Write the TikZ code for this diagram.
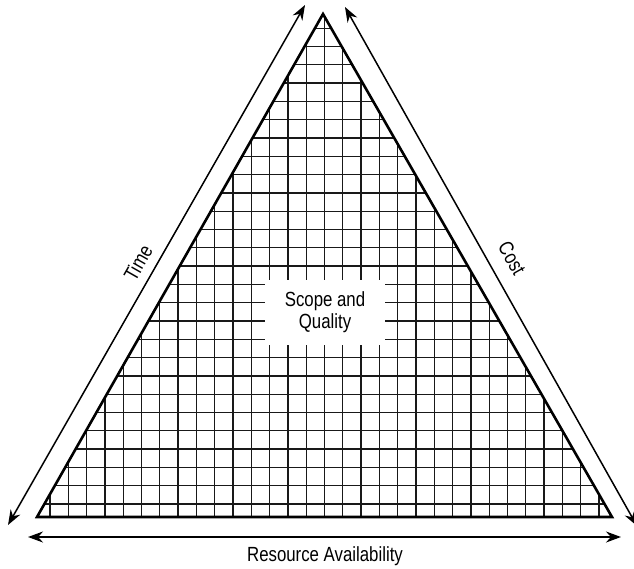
\documentclass[tikz,border=0pt]{standalone}
\usepackage{fontspec}
\setmainfont{Liberation Sans}[FakeStretch=0.82]
\usetikzlibrary{arrows.meta}
\tikzset{
  gridline/.style={line width=1.3pt, black!90},
  outline/.style={line width=2.6pt, line join=miter},
  dimarrow/.style={line width=1.5pt, {Stealth[length=15pt,width=11pt]}-{Stealth[length=15pt,width=11pt]}},
  lbl/.style={font=\fontsize{20.5pt}{22pt}\selectfont, inner sep=0pt},
}
\begin{document}
\begin{tikzpicture}[x=1pt,y=-1pt]
\useasboundingbox (0,0) rectangle (634,568);
\coordinate (A) at (323,14);
\coordinate (L) at (37,517);
\coordinate (R) at (612,517);
% grid
\begin{scope}
\clip (A) -- (L) -- (R) -- cycle;
\foreach \gi [evaluate=\gi as \gx using 50+18.3*\gi] in {0,1,...,30} {
  \draw[gridline] (\gx,0) -- (\gx,520);
}
\foreach \gj [evaluate=\gj as \gy using 504-18.3*\gj] in {0,1,...,26} {
  \draw[gridline] (30,\gy) -- (620,\gy);
}
\end{scope}
% text box
\fill[white] (265,280) rectangle (385,345);
\node[lbl, align=center] (sq) at (325,312) {Scope and\\Quality};
% triangle
\draw[outline] (A) -- (L) -- (R) -- cycle;
% arrows
\coordinate (t1) at (8,525);
\coordinate (t2) at (305,5);
\coordinate (c1) at (345,7);
\coordinate (c2) at (637,526);
\coordinate (b1) at (28,537);
\coordinate (b2) at (621,537);
\draw[dimarrow] (t1) -- (t2);
\draw[dimarrow] (c1) -- (c2);
\draw[dimarrow] (b1) -- (b2);
% labels
\node[lbl, rotate=60.3] (time) at (138,263) {Time};
\node[lbl, rotate=-60.5] (cost) at (512,258) {Cost};
\node[lbl] (res) at (325,556) {Resource Availability};
\end{tikzpicture}
\end{document}
